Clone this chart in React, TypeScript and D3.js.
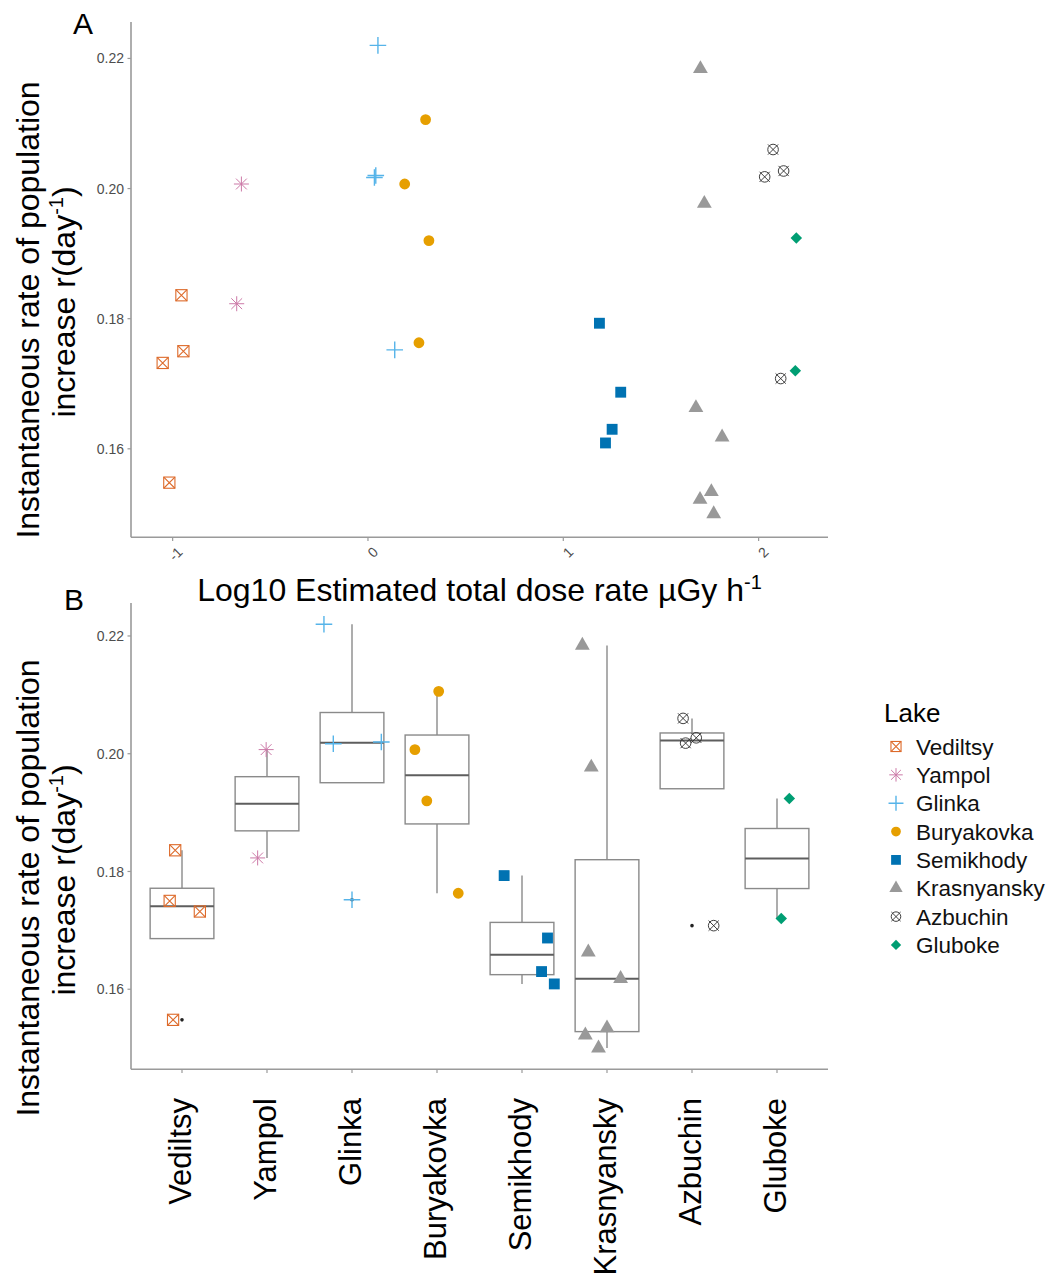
import React from "react";
import * as d3 from "d3";

const lakes = ["Vediltsy", "Yampol", "Glinka", "Buryakovka", "Semikhody", "Krasnyansky", "Azbuchin", "Gluboke"];
const lakeColors = ["#DD6A2A", "#CC79A7", "#56B4E9", "#E69F00", "#0072B2", "#999999", "#2a2a2a", "#009E73"];
const lakeShapes = ["squareX", "asterisk", "plus", "circle", "square", "triangle", "circleX", "diamond"];

// log10 estimated total dose rate (uGy/h) per lake
const logDose: number[][] = [
  [-1.051, -0.955, -0.945, -1.017],
  [-0.648, -0.672],
  [0.051, 0.033, 0.040, 0.137],
  [0.295, 0.188, 0.312, 0.261],
  [1.185, 1.294, 1.25, 1.216],
  [1.702, 1.722, 1.679, 1.813, 1.758, 1.7, 1.77],
  [2.074, 2.128, 2.031, 2.113],
  [2.193, 2.188],
];
// instantaneous rate of population increase r (day^-1)
const rate: number[][] = [
  [0.1732, 0.1836, 0.175, 0.1548],
  [0.2007, 0.1823],
  [0.222, 0.2017, 0.202, 0.1752],
  [0.2106, 0.2007, 0.192, 0.1763],
  [0.1793, 0.1687, 0.163, 0.1609],
  [0.2184, 0.1977, 0.1663, 0.1618, 0.1534, 0.1522, 0.15],
  [0.206, 0.2027, 0.2018, 0.1708],
  [0.1924, 0.172],
];
// horizontal jitter in panel B (fraction of category step)
const jitter: number[][] = [
  [0.21, -0.08, -0.145, -0.105],
  [-0.01, -0.11],
  [-0.33, -0.22, 0.345, 0.0],
  [0.02, -0.26, -0.12, 0.25],
  [-0.21, 0.3, 0.23, 0.38],
  [-0.29, -0.185, -0.22, 0.16, 0.0, -0.255, -0.1],
  [-0.105, 0.05, -0.075, 0.255],
  [0.145, 0.05],
];
const yTicks = [0.16, 0.18, 0.2, 0.22];
const xTicks = [-1, 0, 1, 2];

const FONT = "'Liberation Sans', Arial, sans-serif";
const AXIS = "#9a9a9a";
const TICKTXT = "#4d4d4d";

function Sym({ shape, x, y, color, s = 1 }: { shape: string; x: number; y: number; color: string; s?: number }) {
  switch (shape) {
    case "squareX": {
      const h = 5.6 * s;
      return (
        <g stroke={color} strokeWidth={1.1} fill="none">
          <rect x={x - h} y={y - h} width={2 * h} height={2 * h} />
          <path d={`M${x - h},${y - h}L${x + h},${y + h}M${x - h},${y + h}L${x + h},${y - h}`} />
        </g>
      );
    }
    case "asterisk": {
      const h = 7.5 * s;
      const d = h * 0.72;
      return (
        <path
          stroke={color}
          strokeWidth={1}
          fill="none"
          d={`M${x - h},${y}L${x + h},${y}M${x},${y - h}L${x},${y + h}M${x - d},${y - d}L${x + d},${y + d}M${x - d},${y + d}L${x + d},${y - d}`}
        />
      );
    }
    case "plus": {
      const h = 8.3 * s;
      return <path stroke={color} strokeWidth={1.4} fill="none" d={`M${x - h},${y}L${x + h},${y}M${x},${y - h}L${x},${y + h}`} />;
    }
    case "circle":
      return <path transform={`translate(${x},${y})`} fill={color} d={d3.symbol().type(d3.symbolCircle).size(92 * s * s)()!} />;
    case "square":
      return <path transform={`translate(${x},${y})`} fill={color} d={d3.symbol().type(d3.symbolSquare).size(118 * s * s)()!} />;
    case "triangle":
      return <path transform={`translate(${x},${y})`} fill={color} d={d3.symbol().type(d3.symbolTriangle).size(95 * s * s)()!} />;
    case "diamond":
      return <path transform={`translate(${x},${y}) rotate(45)`} fill={color} d={d3.symbol().type(d3.symbolSquare).size(66 * s * s)()!} />;
    case "circleX": {
      const r = 5.3 * s;
      const e = 7.2 * s * 0.7071;
      return (
        <g stroke={color} strokeWidth={0.9} fill="none">
          <circle cx={x} cy={y} r={r} />
          <path d={`M${x - e},${y - e}L${x + e},${y + e}M${x - e},${y + e}L${x + e},${y - e}`} />
        </g>
      );
    }
  }
  return null;
}

function boxStats(vals: number[]) {
  const s = [...vals].sort(d3.ascending);
  const q1 = d3.quantile(s, 0.25)!;
  const med = d3.quantile(s, 0.5)!;
  const q3 = d3.quantile(s, 0.75)!;
  const iqr = q3 - q1;
  const lo = q1 - 1.5 * iqr;
  const hi = q3 + 1.5 * iqr;
  const inl = s.filter((v) => v >= lo && v <= hi);
  const out = s.filter((v) => v < lo || v > hi);
  return { q1, med, q3, wLo: Math.min(q1, d3.min(inl)!), wHi: Math.max(q3, d3.max(inl)!), out };
}

function YTitle({ cy }: { cy: number }) {
  return (
    <g fontFamily={FONT} fontSize={32} fill="#000" textAnchor="middle">
      <text transform={`translate(39,${cy}) rotate(-90)`}>Instantaneous rate of population</text>
      <text transform={`translate(75,${cy - 8}) rotate(-90)`}>
        increase r(day
        <tspan fontSize={20} dy={-12}>-1</tspan>
        <tspan dy={12}>)</tspan>
      </text>
    </g>
  );
}

export default function App() {
  const left = 131;
  const right = 828;
  const allR = rate.flat();
  const allX = logDose.flat();
  const rExt = d3.extent(allR) as [number, number];
  const rPad = (rExt[1] - rExt[0]) * 0.05;
  const xExt = d3.extent(allX) as [number, number];
  const xPad = (xExt[1] - xExt[0]) * 0.05;

  const xA = d3.scaleLinear().domain([xExt[0] - xPad, xExt[1] + xPad]).range([left, right]);
  const yA = d3.scaleLinear().domain([rExt[0] - rPad, rExt[1] + rPad]).range([537.3, 22]);
  const yB = d3.scaleLinear().domain([rExt[0] - rPad, rExt[1] + rPad]).range([1069.3, 603]);
  const xB = d3.scalePoint<string>().domain(lakes).range([left, right]).padding(0.6);
  const step = xB.step();
  const boxW = step * 0.75;

  return (
    <svg width={1054} height={1278} style={{ position: "absolute", left: 0, top: 0, background: "#fff" }}>
      {/* Panel A */}
      <text x={73} y={34} fontFamily={FONT} fontSize={30}>A</text>
      <line x1={left} x2={left} y1={22} y2={537.3} stroke={AXIS} strokeWidth={1.6} />
      <line x1={left} x2={right} y1={537.3} y2={537.3} stroke={AXIS} strokeWidth={1.6} />
      {yTicks.map((t) => (
        <g key={"ya" + t}>
          <line x1={left - 3.5} x2={left} y1={yA(t)} y2={yA(t)} stroke={AXIS} strokeWidth={1.2} />
          <text x={left - 7} y={yA(t)} dy="0.36em" textAnchor="end" fontFamily={FONT} fontSize={14} fill={TICKTXT}>
            {t.toFixed(2)}
          </text>
        </g>
      ))}
      {xTicks.map((t) => (
        <g key={"xa" + t}>
          <line x1={xA(t)} x2={xA(t)} y1={537.3} y2={541} stroke={AXIS} strokeWidth={1.2} />
          <text
            transform={`translate(${xA(t) + 4},${546}) rotate(-45)`}
            textAnchor="end"
            dy="0.7em"
            fontFamily={FONT}
            fontSize={14}
            fill={TICKTXT}
          >
            {t}
          </text>
        </g>
      ))}
      <YTitle cy={310} />
      <text x={(left + right) / 2} y={601} textAnchor="middle" fontFamily={FONT} fontSize={32}>
        Log10 Estimated total dose rate µGy h
        <tspan fontSize={20} dy={-12}>-1</tspan>
      </text>
      {lakes.map((lk, i) => (
        <g key={"pa" + lk}>
          {rate[i].map((r, j) => (
            <Sym key={j} shape={lakeShapes[i]} x={xA(logDose[i][j])} y={yA(r)} color={lakeColors[i]} />
          ))}
        </g>
      ))}

      {/* Panel B */}
      <text x={64} y={610} fontFamily={FONT} fontSize={30}>B</text>
      <line x1={left} x2={left} y1={603} y2={1069.3} stroke={AXIS} strokeWidth={1.6} />
      <line x1={left} x2={right} y1={1069.3} y2={1069.3} stroke={AXIS} strokeWidth={1.6} />
      {yTicks.map((t) => (
        <g key={"yb" + t}>
          <line x1={left - 3.5} x2={left} y1={yB(t)} y2={yB(t)} stroke={AXIS} strokeWidth={1.2} />
          <text x={left - 7} y={yB(t)} dy="0.36em" textAnchor="end" fontFamily={FONT} fontSize={14} fill={TICKTXT}>
            {t.toFixed(2)}
          </text>
        </g>
      ))}
      {lakes.map((lk) => (
        <g key={"xb" + lk}>
          <line x1={xB(lk)!} x2={xB(lk)!} y1={1069.3} y2={1073} stroke={AXIS} strokeWidth={1.2} />
          <text
            transform={`translate(${xB(lk)! - 2},${1098}) rotate(-90)`}
            textAnchor="end"
            dy="0.36em"
            fontFamily={FONT}
            fontSize={31}
            fill="#000"
          >
            {lk}
          </text>
        </g>
      ))}
      <YTitle cy={888} />
      {lakes.map((lk, i) => {
        const st = boxStats(rate[i]);
        const cx = xB(lk)!;
        return (
          <g key={"box" + lk}>
            <line x1={cx} x2={cx} y1={yB(st.q3)} y2={yB(st.wHi)} stroke="#8a8a8a" strokeWidth={1.4} />
            <line x1={cx} x2={cx} y1={yB(st.q1)} y2={yB(st.wLo)} stroke="#8a8a8a" strokeWidth={1.4} />
            <rect
              x={cx - boxW / 2}
              y={yB(st.q3)}
              width={boxW}
              height={yB(st.q1) - yB(st.q3)}
              fill="#fff"
              stroke="#8a8a8a"
              strokeWidth={1.4}
            />
            <line x1={cx - boxW / 2} x2={cx + boxW / 2} y1={yB(st.med)} y2={yB(st.med)} stroke="#5e5e5e" strokeWidth={2} />
            {st.out.map((o, k) => (
              <circle key={k} cx={cx} cy={yB(o)} r={1.8} fill="#222" />
            ))}
          </g>
        );
      })}
      {lakes.map((lk, i) => (
        <g key={"pb" + lk}>
          {rate[i].map((r, j) => (
            <Sym key={j} shape={lakeShapes[i]} x={xB(lk)! + jitter[i][j] * step} y={yB(r)} color={lakeColors[i]} />
          ))}
        </g>
      ))}

      {/* Legend */}
      <text x={884} y={722} fontFamily={FONT} fontSize={26}>Lake</text>
      {lakes.map((lk, i) => {
        const cy = 746.5 + i * 28.35;
        return (
          <g key={"lg" + lk}>
            <Sym shape={lakeShapes[i]} x={896} y={cy} color={lakeColors[i]} s={0.9} />
            <text x={916} y={cy} dy="0.36em" fontFamily={FONT} fontSize={22.5} fill="#111">
              {lk}
            </text>
          </g>
        );
      })}
    </svg>
  );
}
